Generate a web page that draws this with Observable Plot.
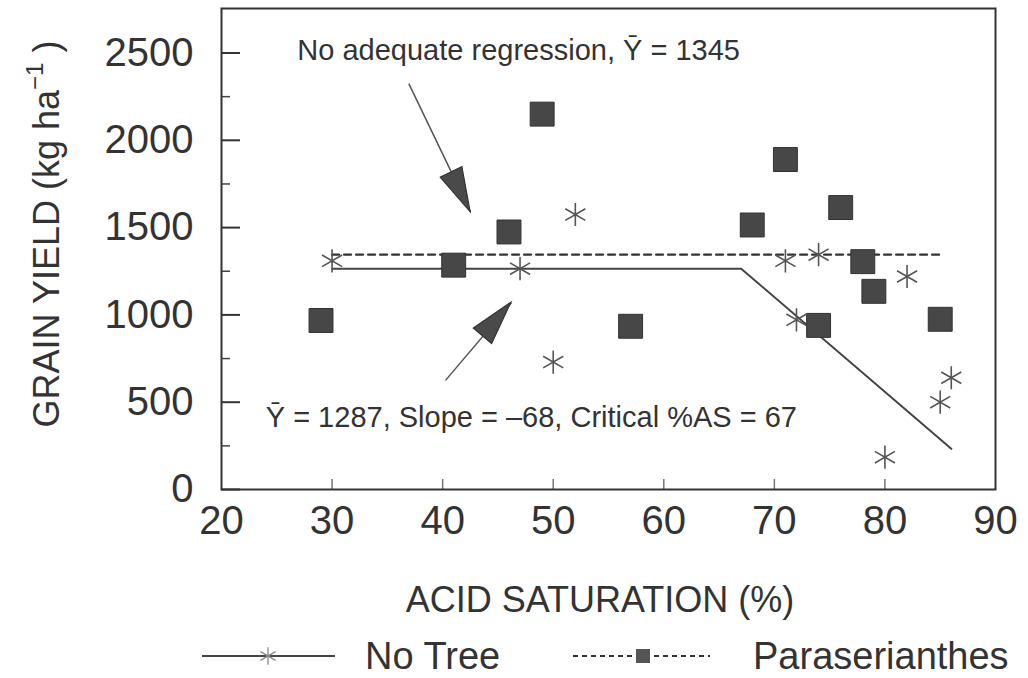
<!DOCTYPE html>
<html><head><meta charset="utf-8">
<script src="https://cdn.jsdelivr.net/npm/d3@7"></script>
<script src="https://cdn.jsdelivr.net/npm/@observablehq/plot@0.6"></script>
<style>
body{margin:0;background:#fff;font-family:"Liberation Sans",Arial,sans-serif;color:#333}
#wrap{width:1028px;height:678px;position:relative;overflow:hidden;background:#fff}
#legend{position:absolute;left:0;top:625px;width:1028px;height:53px}
#legend span{position:absolute;font-size:38px;line-height:53px;top:5px;color:#333;white-space:nowrap}
</style></head><body><div id="wrap"></div>
<script>
// ---- data ----
const noTreeX = [30, 47, 52, 50, 71, 74, 72, 82, 86, 85, 80];
const noTreeY = [1310, 1265, 1575, 730, 1310, 1345, 972, 1220, 640, 500, 185];
const paraX = [29, 41, 46, 49, 57, 68, 71, 76, 74, 78, 79, 85];
const paraY = [968, 1285, 1475, 2150, 935, 1515, 1890, 1615, 940, 1305, 1135, 975];
const noTreeFitX = [30, 67, 86];
const noTreeFitY = [1265, 1265, 233];
const paraMeanX = [30, 85];
const paraMeanY = [1345, 1345];
const xTickLabels = [20, 30, 40, 50, 60, 70, 80, 90];
const xInnerTicks = [30, 40, 50, 60, 70, 80];
const yTickLabels = [0, 500, 1000, 1500, 2000, 2500];
const yMinorTicks = [250, 750, 1250, 1750, 2250];
const noteText = ["No adequate regression, \u0232 = 1345", "\u0232 = 1287, Slope = \u201368, Critical %AS = 67"];
const noteX = [26.86, 24.0];
const noteY = [2512, 413];
const arrowTailX = [36.94, 40.26];
const arrowTailY = [2325, 625];
const arrowTipX = [42.53, 46.22];
const arrowTipY = [1589, 1070];
const seriesNames = ["No Tree", "Paraserianthes"];

const FONT = '"Liberation Sans", Arial, sans-serif';

const chart = Plot.plot({
  width: 1028, height: 625,
  marginLeft: 221, marginRight: 33, marginTop: 8, marginBottom: 136,
  x: {domain: [20, 90]},
  y: {domain: [0, 2755]},
  style: {fontFamily: FONT, color: "#333", background: "white", overflow: "visible"},
  marks: [
    Plot.axisY(yTickLabels, {tickSize: -19, tickFormat: () => "", label: null, stroke: "#333", strokeWidth: 2}),
    Plot.axisY(yMinorTicks, {tickSize: -9, tickFormat: () => "", label: null, stroke: "#444", strokeWidth: 1.5}),
    Plot.axisY(yTickLabels, {tickSize: 0, tickPadding: 28, fontSize: 40, tickFormat: "d", label: null}),
    Plot.axisX(xInnerTicks, {tickSize: -10, tickFormat: () => "", label: null, stroke: "#777", strokeWidth: 1.5}),
    Plot.axisX(xTickLabels, {tickSize: 0, tickPadding: 16, fontSize: 40, tickFormat: "d", label: null}),
    Plot.frame({stroke: "#333", strokeWidth: 2}),
    Plot.line(paraMeanX, {x: paraMeanX, y: paraMeanY, stroke: "#333", strokeWidth: 2.2, strokeDasharray: "7,5"}),
    Plot.line(noTreeFitX, {x: noTreeFitX, y: noTreeFitY, stroke: "#444", strokeWidth: 2}),
    Plot.link(arrowTailX, {x1: arrowTailX, y1: arrowTailY, x2: arrowTipX, y2: arrowTipY, stroke: "#555", strokeWidth: 1.5}),
    Plot.dot(paraX, {x: paraX, y: paraY, symbol: "square", r: 13.5, fill: "#474747", stroke: "#333", strokeWidth: 1}),
    Plot.dot(noTreeX, {x: noTreeX, y: noTreeY, symbol: "asterisk", r: 11, stroke: "#555", fill: "none", strokeWidth: 1.6}),
    Plot.text(noteText, {x: noteX, y: noteY, text: d => d, textAnchor: "start", fontSize: 29, fill: "#333"})
  ]
});

// filled arrowheads, placed through the chart's own scales
const sxd = chart.scale("x"), syd = chart.scale("y");
const sx = d3.scaleLinear(sxd.domain, sxd.range), sy = d3.scaleLinear(syd.domain, syd.range);
const svg = d3.select(chart);
arrowTipX.forEach((_, i) => {
  const tx = sx(arrowTipX[i]), ty = sy(arrowTipY[i]);
  const ax = sx(arrowTailX[i]), ay = sy(arrowTailY[i]);
  const len = Math.hypot(tx - ax, ty - ay), ux = (tx - ax) / len, uy = (ty - ay) / len;
  const L = 44, W = 12, bx = tx - ux * L, by = ty - uy * L;
  svg.append("polygon")
    .attr("points", [[tx, ty], [bx - uy * W, by + ux * W], [bx + uy * W, by - ux * W]].map(p => p.join(",")).join(" "))
    .attr("fill", "#4a4a4a").attr("stroke", "#333").attr("stroke-width", 1.2);
});

// axis titles
const yt = svg.append("text").attr("transform", "translate(59,234) rotate(-90)")
  .attr("text-anchor", "middle").attr("font-size", 36).attr("fill", "#333").attr("font-family", FONT);
yt.append("tspan").text("GRAIN YIELD (kg ha");
yt.append("tspan").attr("dy", -16).attr("font-size", 24).text("\u22121");
yt.append("tspan").attr("dy", 16).text(" )");
svg.append("text").attr("x", 600).attr("y", 612).attr("text-anchor", "middle")
  .attr("font-size", 36).attr("fill", "#333").attr("font-family", FONT).text("ACID SATURATION (%)");

const wrap = document.getElementById("wrap");
wrap.appendChild(chart);

// legend below the chart
const leg = d3.select(wrap).append("div").attr("id", "legend");
const s1 = leg.append("svg").attr("width", 140).attr("height", 53).style("position", "absolute").style("left", "200px").style("top", "0px");
s1.append("line").attr("x1", 2).attr("x2", 135).attr("y1", 31).attr("y2", 31).attr("stroke", "#444").attr("stroke-width", 2);
s1.append("path").attr("transform", "translate(68,31)").attr("d", d3.symbol(d3.symbolAsterisk, 220)()).attr("stroke", "#888").attr("stroke-width", 1.3).attr("fill", "none");
leg.append("span").style("left", "365px").text(seriesNames[0]);
const s2 = leg.append("svg").attr("width", 140).attr("height", 53).style("position", "absolute").style("left", "572px").style("top", "0px");
s2.append("line").attr("x1", 1).attr("x2", 138).attr("y1", 31).attr("y2", 31).attr("stroke", "#333").attr("stroke-width", 2).attr("stroke-dasharray", "5,4");
s2.append("rect").attr("x", 63).attr("y", 23).attr("width", 16).attr("height", 16).attr("fill", "#555").attr("stroke", "#fff").attr("stroke-width", 2);
leg.append("span").style("left", "753px").text(seriesNames[1]);
</script></body></html>
